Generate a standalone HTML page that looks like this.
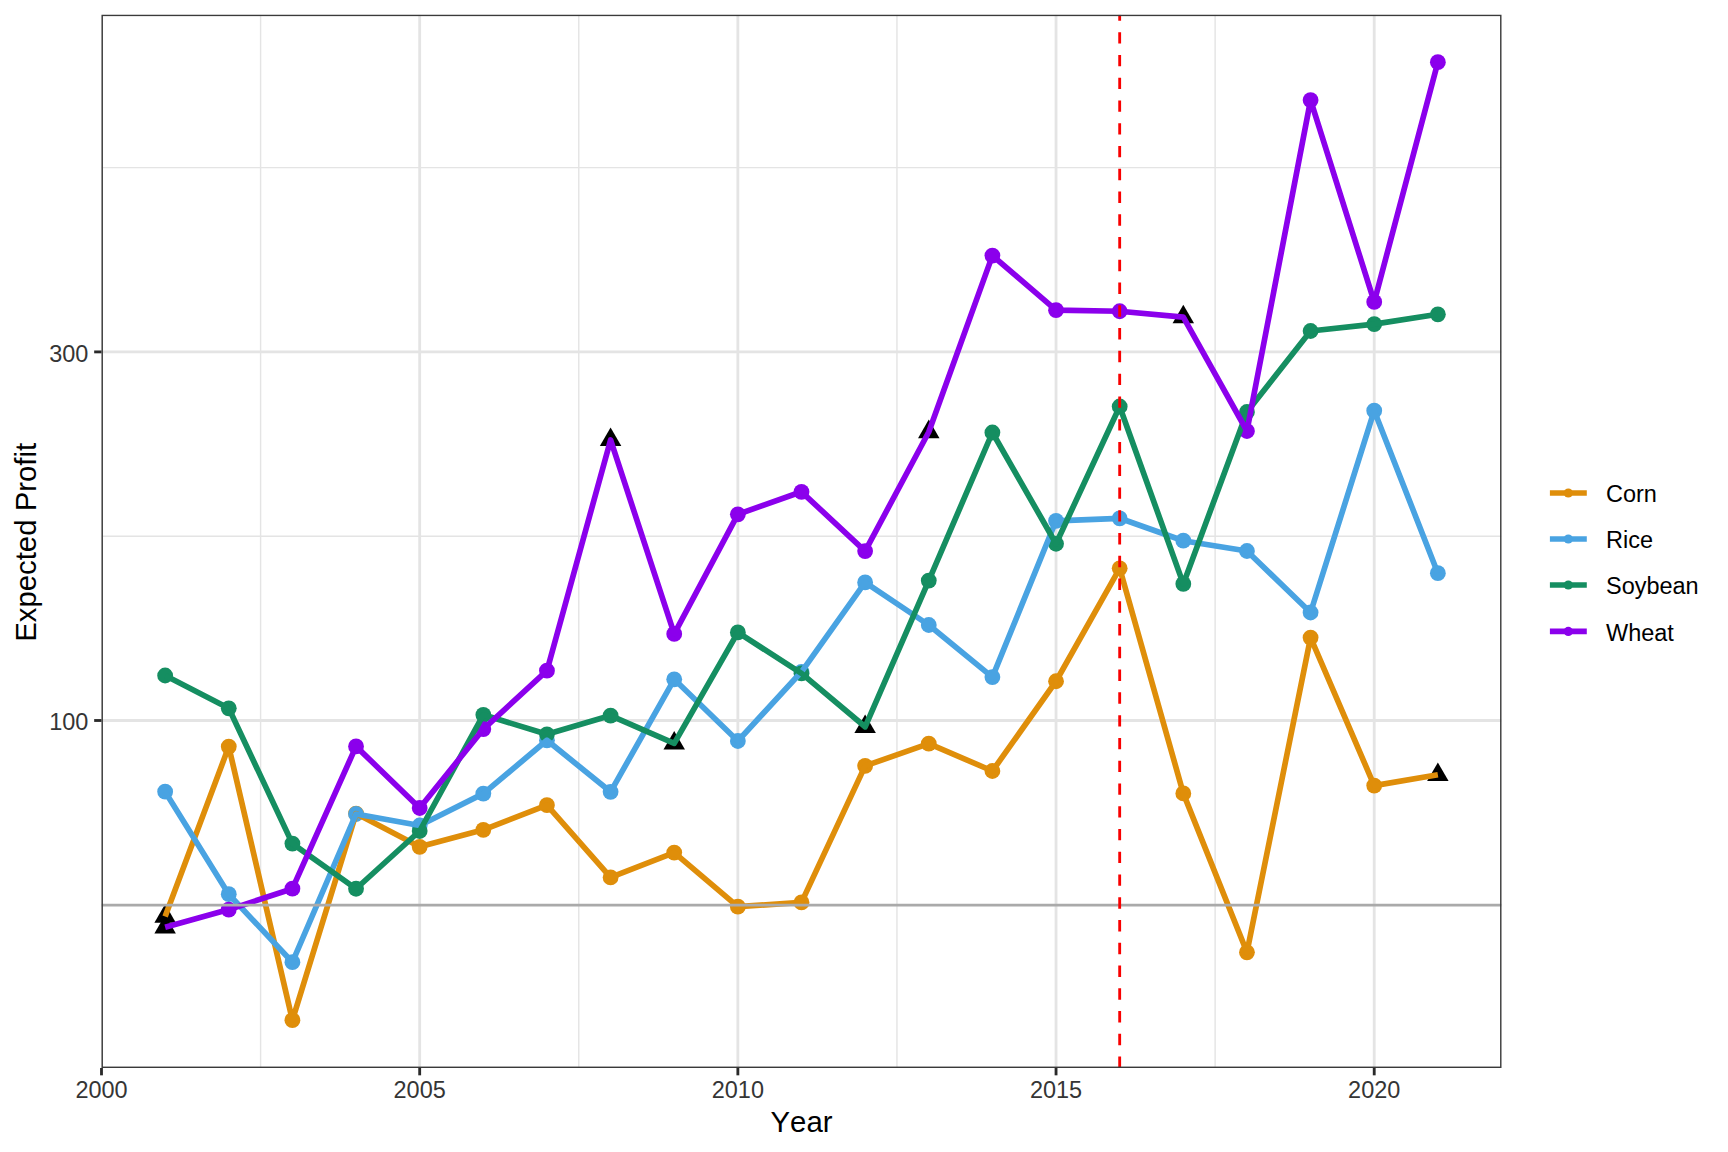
<!DOCTYPE html>
<html><head><meta charset="utf-8"><title>Expected Profit by Year</title>
<style>html,body{margin:0;padding:0;background:#fff;overflow:hidden;}svg{display:block;}text{font-family:"Liberation Sans",Arial,sans-serif;font-kerning:none;}</style></head><body>
<svg width="1728" height="1152" viewBox="0 0 1728 1152">
<rect x="0" y="0" width="1728" height="1152" fill="#FFFFFF"/>
<defs><clipPath id="pc"><rect x="101.5" y="14.7" width="1400.00" height="1053.30"/></clipPath></defs>
<g clip-path="url(#pc)">
<line x1="101.5" x2="1501.5" y1="904.80" y2="904.80" stroke="#E4E4E4" stroke-width="1.42"/>
<line x1="101.5" x2="1501.5" y1="536.20" y2="536.20" stroke="#E4E4E4" stroke-width="1.42"/>
<line x1="101.5" x2="1501.5" y1="167.60" y2="167.60" stroke="#E4E4E4" stroke-width="1.42"/>
<line x1="260.59" x2="260.59" y1="14.7" y2="1068.0" stroke="#E4E4E4" stroke-width="1.42"/>
<line x1="578.77" x2="578.77" y1="14.7" y2="1068.0" stroke="#E4E4E4" stroke-width="1.42"/>
<line x1="896.95" x2="896.95" y1="14.7" y2="1068.0" stroke="#E4E4E4" stroke-width="1.42"/>
<line x1="1215.13" x2="1215.13" y1="14.7" y2="1068.0" stroke="#E4E4E4" stroke-width="1.42"/>
<line x1="101.5" x2="1501.5" y1="720.50" y2="720.50" stroke="#E4E4E4" stroke-width="2.84"/>
<line x1="101.5" x2="1501.5" y1="351.90" y2="351.90" stroke="#E4E4E4" stroke-width="2.84"/>
<line x1="101.50" x2="101.50" y1="14.7" y2="1068.0" stroke="#E4E4E4" stroke-width="2.84"/>
<line x1="419.68" x2="419.68" y1="14.7" y2="1068.0" stroke="#E4E4E4" stroke-width="2.84"/>
<line x1="737.86" x2="737.86" y1="14.7" y2="1068.0" stroke="#E4E4E4" stroke-width="2.84"/>
<line x1="1056.04" x2="1056.04" y1="14.7" y2="1068.0" stroke="#E4E4E4" stroke-width="2.84"/>
<line x1="1374.22" x2="1374.22" y1="14.7" y2="1068.0" stroke="#E4E4E4" stroke-width="2.84"/>
<polygon points="165.14,904.10 175.87,922.70 154.40,922.70" fill="#000000"/>
<circle cx="228.77" cy="746.60" r="7.9" fill="#DF8E0A"/>
<circle cx="292.41" cy="1020.20" r="7.9" fill="#DF8E0A"/>
<circle cx="356.04" cy="813.60" r="7.9" fill="#DF8E0A"/>
<circle cx="419.68" cy="846.80" r="7.9" fill="#DF8E0A"/>
<circle cx="483.32" cy="829.80" r="7.9" fill="#DF8E0A"/>
<circle cx="546.95" cy="805.10" r="7.9" fill="#DF8E0A"/>
<circle cx="610.59" cy="877.40" r="7.9" fill="#DF8E0A"/>
<circle cx="674.22" cy="852.60" r="7.9" fill="#DF8E0A"/>
<circle cx="737.86" cy="906.70" r="7.9" fill="#DF8E0A"/>
<circle cx="801.50" cy="902.40" r="7.9" fill="#DF8E0A"/>
<circle cx="865.13" cy="765.90" r="7.9" fill="#DF8E0A"/>
<circle cx="928.77" cy="743.60" r="7.9" fill="#DF8E0A"/>
<circle cx="992.40" cy="771.00" r="7.9" fill="#DF8E0A"/>
<circle cx="1056.04" cy="681.25" r="7.9" fill="#DF8E0A"/>
<circle cx="1119.68" cy="568.30" r="7.9" fill="#DF8E0A"/>
<circle cx="1183.31" cy="793.40" r="7.9" fill="#DF8E0A"/>
<circle cx="1246.95" cy="952.30" r="7.9" fill="#DF8E0A"/>
<circle cx="1310.58" cy="637.60" r="7.9" fill="#DF8E0A"/>
<circle cx="1374.22" cy="785.60" r="7.9" fill="#DF8E0A"/>
<polygon points="1437.86,762.40 1448.59,781.00 1427.12,781.00" fill="#000000"/>
<circle cx="165.14" cy="791.70" r="7.9" fill="#49A3E2"/>
<circle cx="228.77" cy="894.20" r="7.9" fill="#49A3E2"/>
<circle cx="292.41" cy="962.20" r="7.9" fill="#49A3E2"/>
<circle cx="356.04" cy="814.00" r="7.9" fill="#49A3E2"/>
<circle cx="419.68" cy="825.50" r="7.9" fill="#49A3E2"/>
<circle cx="483.32" cy="793.60" r="7.9" fill="#49A3E2"/>
<circle cx="546.95" cy="740.30" r="7.9" fill="#49A3E2"/>
<circle cx="610.59" cy="791.80" r="7.9" fill="#49A3E2"/>
<circle cx="674.22" cy="679.30" r="7.9" fill="#49A3E2"/>
<circle cx="737.86" cy="741.00" r="7.9" fill="#49A3E2"/>
<circle cx="801.50" cy="671.80" r="7.9" fill="#49A3E2"/>
<circle cx="865.13" cy="582.40" r="7.9" fill="#49A3E2"/>
<circle cx="928.77" cy="625.00" r="7.9" fill="#49A3E2"/>
<circle cx="992.40" cy="677.10" r="7.9" fill="#49A3E2"/>
<circle cx="1056.04" cy="520.80" r="7.9" fill="#49A3E2"/>
<circle cx="1119.68" cy="518.30" r="7.9" fill="#49A3E2"/>
<circle cx="1183.31" cy="540.70" r="7.9" fill="#49A3E2"/>
<circle cx="1246.95" cy="551.00" r="7.9" fill="#49A3E2"/>
<circle cx="1310.58" cy="612.50" r="7.9" fill="#49A3E2"/>
<circle cx="1374.22" cy="410.70" r="7.9" fill="#49A3E2"/>
<circle cx="1437.86" cy="573.20" r="7.9" fill="#49A3E2"/>
<circle cx="165.14" cy="675.50" r="7.9" fill="#158E61"/>
<circle cx="228.77" cy="708.30" r="7.9" fill="#158E61"/>
<circle cx="292.41" cy="843.60" r="7.9" fill="#158E61"/>
<circle cx="356.04" cy="888.75" r="7.9" fill="#158E61"/>
<circle cx="419.68" cy="831.00" r="7.9" fill="#158E61"/>
<circle cx="483.32" cy="714.80" r="7.9" fill="#158E61"/>
<circle cx="546.95" cy="734.30" r="7.9" fill="#158E61"/>
<circle cx="610.59" cy="715.60" r="7.9" fill="#158E61"/>
<polygon points="674.22,731.00 684.96,749.60 663.49,749.60" fill="#000000"/>
<circle cx="737.86" cy="632.40" r="7.9" fill="#158E61"/>
<circle cx="801.50" cy="673.40" r="7.9" fill="#158E61"/>
<polygon points="865.13,714.40 875.87,733.00 854.39,733.00" fill="#000000"/>
<circle cx="928.77" cy="580.60" r="7.9" fill="#158E61"/>
<circle cx="992.40" cy="432.50" r="7.9" fill="#158E61"/>
<circle cx="1056.04" cy="543.75" r="7.9" fill="#158E61"/>
<circle cx="1119.68" cy="406.50" r="7.9" fill="#158E61"/>
<circle cx="1183.31" cy="583.90" r="7.9" fill="#158E61"/>
<circle cx="1246.95" cy="412.00" r="7.9" fill="#158E61"/>
<circle cx="1310.58" cy="331.00" r="7.9" fill="#158E61"/>
<circle cx="1374.22" cy="324.10" r="7.9" fill="#158E61"/>
<circle cx="1437.86" cy="314.30" r="7.9" fill="#158E61"/>
<polygon points="165.14,914.80 175.87,933.40 154.40,933.40" fill="#000000"/>
<circle cx="228.77" cy="909.60" r="7.9" fill="#8B00EC"/>
<circle cx="292.41" cy="888.70" r="7.9" fill="#8B00EC"/>
<circle cx="356.04" cy="746.40" r="7.9" fill="#8B00EC"/>
<circle cx="419.68" cy="808.00" r="7.9" fill="#8B00EC"/>
<circle cx="483.32" cy="729.10" r="7.9" fill="#8B00EC"/>
<circle cx="546.95" cy="670.70" r="7.9" fill="#8B00EC"/>
<polygon points="610.59,427.50 621.33,446.10 599.85,446.10" fill="#000000"/>
<circle cx="674.22" cy="633.90" r="7.9" fill="#8B00EC"/>
<circle cx="737.86" cy="514.30" r="7.9" fill="#8B00EC"/>
<circle cx="801.50" cy="491.80" r="7.9" fill="#8B00EC"/>
<circle cx="865.13" cy="551.10" r="7.9" fill="#8B00EC"/>
<polygon points="928.77,419.60 939.51,438.20 918.03,438.20" fill="#000000"/>
<circle cx="992.40" cy="255.60" r="7.9" fill="#8B00EC"/>
<circle cx="1056.04" cy="310.20" r="7.9" fill="#8B00EC"/>
<circle cx="1119.68" cy="311.25" r="7.9" fill="#8B00EC"/>
<polygon points="1183.31,304.70 1194.05,323.30 1172.57,323.30" fill="#000000"/>
<circle cx="1246.95" cy="431.00" r="7.9" fill="#8B00EC"/>
<circle cx="1310.58" cy="100.10" r="7.9" fill="#8B00EC"/>
<circle cx="1374.22" cy="301.90" r="7.9" fill="#8B00EC"/>
<circle cx="1437.86" cy="62.20" r="7.9" fill="#8B00EC"/>
<polyline points="165.14,916.50 228.77,746.60 292.41,1020.20 356.04,813.60 419.68,846.80 483.32,829.80 546.95,805.10 610.59,877.40 674.22,852.60 737.86,906.70 801.50,902.40 865.13,765.90 928.77,743.60 992.40,771.00 1056.04,681.25 1119.68,568.30 1183.31,793.40 1246.95,952.30 1310.58,637.60 1374.22,785.60 1437.86,774.80" fill="none" stroke="#DF8E0A" stroke-width="5.69" stroke-linejoin="round" stroke-linecap="butt"/>
<polyline points="165.14,791.70 228.77,894.20 292.41,962.20 356.04,814.00 419.68,825.50 483.32,793.60 546.95,740.30 610.59,791.80 674.22,679.30 737.86,741.00 801.50,671.80 865.13,582.40 928.77,625.00 992.40,677.10 1056.04,520.80 1119.68,518.30 1183.31,540.70 1246.95,551.00 1310.58,612.50 1374.22,410.70 1437.86,573.20" fill="none" stroke="#49A3E2" stroke-width="5.69" stroke-linejoin="round" stroke-linecap="butt"/>
<polyline points="165.14,675.50 228.77,708.30 292.41,843.60 356.04,888.75 419.68,831.00 483.32,714.80 546.95,734.30 610.59,715.60 674.22,743.40 737.86,632.40 801.50,673.40 865.13,726.80 928.77,580.60 992.40,432.50 1056.04,543.75 1119.68,406.50 1183.31,583.90 1246.95,412.00 1310.58,331.00 1374.22,324.10 1437.86,314.30" fill="none" stroke="#158E61" stroke-width="5.69" stroke-linejoin="round" stroke-linecap="butt"/>
<polyline points="165.14,927.20 228.77,909.60 292.41,888.70 356.04,746.40 419.68,808.00 483.32,729.10 546.95,670.70 610.59,439.90 674.22,633.90 737.86,514.30 801.50,491.80 865.13,551.10 928.77,432.00 992.40,255.60 1056.04,310.20 1119.68,311.25 1183.31,317.10 1246.95,431.00 1310.58,100.10 1374.22,301.90 1437.86,62.20" fill="none" stroke="#8B00EC" stroke-width="5.69" stroke-linejoin="round" stroke-linecap="butt"/>
<line x1="101.5" x2="1501.5" y1="905.1" y2="905.1" stroke="#AAAAAA" stroke-width="2.84"/>
<line x1="1119.68" x2="1119.68" y1="1068.0" y2="14.7" stroke="#F80000" stroke-width="2.84" stroke-dasharray="11.383 11.383"/>
<rect x="101.5" y="14.7" width="1400.00" height="1053.30" fill="none" stroke="#3A3A3A" stroke-width="2.84"/>
</g>
<line x1="101.50" x2="101.50" y1="1068.0" y2="1075.33" stroke="#2A2A2A" stroke-width="2.84"/>
<line x1="419.68" x2="419.68" y1="1068.0" y2="1075.33" stroke="#2A2A2A" stroke-width="2.84"/>
<line x1="737.86" x2="737.86" y1="1068.0" y2="1075.33" stroke="#2A2A2A" stroke-width="2.84"/>
<line x1="1056.04" x2="1056.04" y1="1068.0" y2="1075.33" stroke="#2A2A2A" stroke-width="2.84"/>
<line x1="1374.22" x2="1374.22" y1="1068.0" y2="1075.33" stroke="#2A2A2A" stroke-width="2.84"/>
<line x1="94.17" x2="101.5" y1="720.50" y2="720.50" stroke="#2A2A2A" stroke-width="2.84"/>
<line x1="94.17" x2="101.5" y1="351.90" y2="351.90" stroke="#2A2A2A" stroke-width="2.84"/>
<text x="101.50" y="1097.8" font-size="23.47" fill="#353535" text-anchor="middle">2000</text>
<text x="419.68" y="1097.8" font-size="23.47" fill="#353535" text-anchor="middle">2005</text>
<text x="737.86" y="1097.8" font-size="23.47" fill="#353535" text-anchor="middle">2010</text>
<text x="1056.04" y="1097.8" font-size="23.47" fill="#353535" text-anchor="middle">2015</text>
<text x="1374.22" y="1097.8" font-size="23.47" fill="#353535" text-anchor="middle">2020</text>
<text x="88.3" y="730.10" font-size="23.47" fill="#353535" text-anchor="end">100</text>
<text x="88.3" y="361.50" font-size="23.47" fill="#353535" text-anchor="end">300</text>
<text x="801.50" y="1132" font-size="29.33" fill="#000000" text-anchor="middle">Year</text>
<text transform="translate(35.7,542.35) rotate(-90)" x="0" y="0" font-size="29.33" fill="#000000" text-anchor="middle">Expected Profit</text>
<line x1="1549.9" x2="1586.8" y1="493.0" y2="493.0" stroke="#DF8E0A" stroke-width="5.69" stroke-linecap="butt"/>
<circle cx="1568.3" cy="493.0" r="4.6" fill="#DF8E0A"/>
<text x="1606.0" y="502.40" font-size="23.47" fill="#000000">Corn</text>
<line x1="1549.9" x2="1586.8" y1="539.0" y2="539.0" stroke="#49A3E2" stroke-width="5.69" stroke-linecap="butt"/>
<circle cx="1568.3" cy="539.0" r="4.6" fill="#49A3E2"/>
<text x="1606.0" y="548.40" font-size="23.47" fill="#000000">Rice</text>
<line x1="1549.9" x2="1586.8" y1="585.0" y2="585.0" stroke="#158E61" stroke-width="5.69" stroke-linecap="butt"/>
<circle cx="1568.3" cy="585.0" r="4.6" fill="#158E61"/>
<text x="1606.0" y="594.40" font-size="23.47" fill="#000000">Soybean</text>
<line x1="1549.9" x2="1586.8" y1="631.4" y2="631.4" stroke="#8B00EC" stroke-width="5.69" stroke-linecap="butt"/>
<circle cx="1568.3" cy="631.4" r="4.6" fill="#8B00EC"/>
<text x="1606.0" y="640.80" font-size="23.47" fill="#000000">Wheat</text>
</svg>
</body></html>
